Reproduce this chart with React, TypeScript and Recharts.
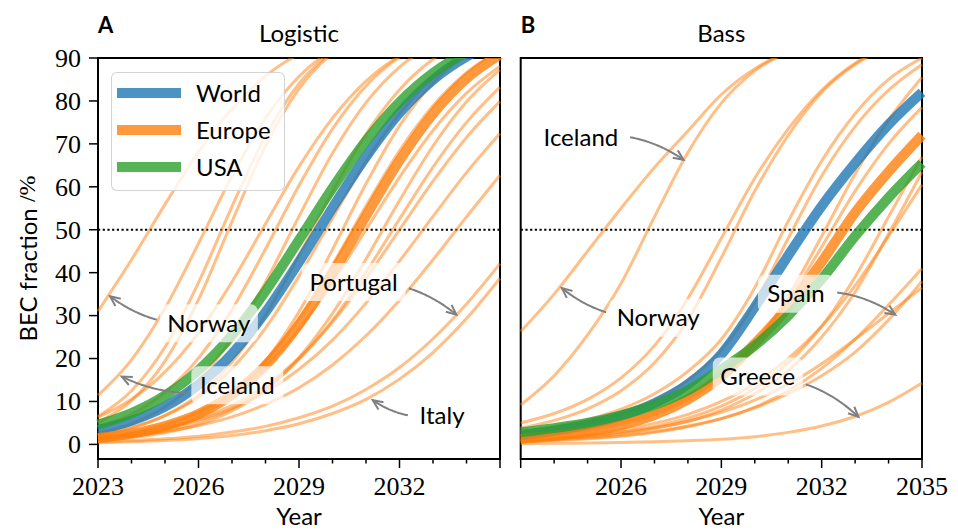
import React from 'react';
import { LineChart, Line, XAxis, YAxis, ReferenceLine, ReferenceArea, Label, Legend } from 'recharts';

// ---------- data ----------
const years = [2023, 2024, 2025, 2026, 2027, 2028, 2029, 2030, 2031, 2032, 2033, 2034, 2035];

// Logistic fits (BEC fraction, %)
const logisticWorld = [3.4, 5.5, 8.8, 13.9, 21.1, 30.8, 42.5, 55.1, 67.0, 77.2, 84.9, 90.3, 93.9];
const logisticEurope = [1.5, 2.5, 4.3, 7.1, 11.6, 18.4, 27.9, 39.9, 53.2, 66.1, 77.0, 85.2, 90.8];
const logisticUSA = [4.6, 7.3, 11.4, 17.3, 25.4, 35.7, 47.6, 59.7, 70.7, 79.7, 86.5, 91.3, 94.5];
const logisticCountries: number[][] = [
  [31.0, 43.0, 55.9, 68.1, 78.2, 85.8, 91.0, 94.5, 96.6, 98.0, 98.8, 99.3, 99.6], // Norway
  [11.4, 19.7, 31.7, 46.8, 62.5, 76.0, 85.7, 91.9, 95.6, 97.6, 98.7, 99.3, 99.6], // Iceland
  [6.5, 12.5, 22.7, 37.7, 55.4, 71.8, 84.0, 91.5, 95.7, 97.8, 98.9, 99.5, 99.7],
  [5.1, 10.2, 19.4, 33.7, 51.9, 69.5, 82.8, 91.1, 95.6, 97.9, 99.0, 99.5, 99.8],
  [6.3, 10.5, 16.9, 26.0, 37.9, 51.4, 64.7, 76.0, 84.6, 90.5, 94.3, 96.6, 98.0],
  [4.0, 7.0, 12.1, 20.1, 31.4, 45.5, 60.3, 73.5, 83.5, 90.2, 94.4, 96.8, 98.2],
  [2.7, 4.8, 8.7, 15.0, 24.7, 37.8, 53.1, 67.8, 79.6, 87.9, 93.1, 96.2, 97.9],
  [2.1, 3.8, 6.7, 11.5, 19.2, 30.1, 44.0, 58.9, 72.3, 82.6, 89.7, 94.0, 96.6],
  [2.3, 3.95, 6.7, 11.0, 17.7, 27.1, 39.2, 52.7, 65.9, 77.0, 85.3, 91.0, 94.6],
  [1.1, 2.0, 3.6, 6.5, 11.4, 19.4, 30.9, 45.4, 60.7, 74.2, 84.2, 90.8, 94.9],
  [1.5, 2.6, 4.4, 7.4, 12.1, 19.3, 29.3, 41.8, 55.5, 68.4, 78.9, 86.6, 91.8],
  [1.8, 2.9, 4.7, 7.6, 11.9, 18.2, 26.9, 37.8, 50.0, 62.2, 73.1, 81.8, 88.1],
  [0.9, 1.6, 2.7, 4.6, 7.8, 12.7, 20.2, 30.5, 43.2, 56.8, 69.5, 79.8, 87.3],
  [1.2, 2.0, 3.2, 5.2, 8.3, 13.0, 19.8, 28.9, 40.1, 52.5, 64.6, 75.0, 83.2],
  [1.6, 2.5, 3.8, 6.0, 9.1, 13.7, 20.1, 28.5, 38.7, 50.0, 61.3, 71.5, 79.9],
  [1.7, 2.5, 3.8, 5.7, 8.4, 12.2, 17.5, 24.3, 32.9, 42.7, 53.1, 63.3, 72.4],
  [1.4, 2.0, 3.0, 4.4, 6.4, 9.3, 13.2, 18.5, 25.3, 33.6, 43.0, 53.0, 62.7],
  [0.6, 0.9, 1.3, 1.9, 2.9, 4.2, 6.2, 8.9, 12.8, 17.9, 24.6, 32.7, 42.1], // Portugal
  [0.4, 0.6, 0.9, 1.4, 2.1, 3.2, 4.8, 7.2, 10.5, 15.2, 21.4, 29.3, 38.7], // Italy
];

// Bass fits (BEC fraction, %)
const bassWorld = [2.2, 3.2, 4.6, 6.6, 9.6, 14.0, 21.0, 32.0, 44.0, 55.5, 65.5, 74.5, 82.0];
const bassEurope = [1.3, 2.0, 3.0, 4.5, 6.8, 10.5, 15.8, 23.5, 32.0, 42.5, 54.0, 63.5, 72.0];
const bassUSA = [2.8, 3.8, 5.0, 6.8, 9.2, 12.6, 17.5, 23.0, 30.0, 38.5, 48.5, 57.5, 65.5];
const bassCountries: number[][] = [
  [26.3, 35.0, 45.0, 55.0, 64.5, 73.0, 81.5, 87.5, 91.5, 94.0, 96.0, 97.0, 98.0], // Norway
  [9.2, 16.0, 25.5, 37.5, 53.0, 68.0, 79.5, 87.0, 91.5, 94.5, 96.5, 97.5, 98.3], // Iceland
  [5.0, 7.2, 10.5, 15.5, 23.0, 34.0, 48.0, 62.0, 73.5, 82.5, 88.8, 92.8, 95.3],
  [3.8, 5.6, 8.3, 12.5, 19.0, 29.0, 43.5, 59.0, 72.0, 82.0, 88.5, 92.5, 95.0],
  [3.0, 4.2, 5.8, 8.2, 11.8, 17.0, 24.5, 36.5, 52.0, 66.0, 77.0, 85.0, 90.0],
  [2.5, 3.5, 5.0, 7.0, 10.2, 15.0, 22.0, 33.0, 48.0, 62.5, 74.0, 82.5, 88.5],
  [1.5, 2.2, 3.2, 4.7, 7.0, 10.5, 15.8, 23.5, 34.5, 48.5, 63.0, 75.5, 85.5],
  [1.8, 2.6, 3.7, 5.3, 7.7, 11.2, 16.2, 23.5, 33.5, 46.0, 59.0, 70.0, 78.5],
  [1.0, 1.4, 2.0, 2.9, 4.2, 6.1, 8.9, 13.0, 19.0, 27.5, 39.0, 53.0, 67.0],
  [0.8, 1.2, 1.7, 2.5, 3.7, 5.4, 8.0, 11.8, 17.2, 25.0, 35.5, 49.0, 63.5],
  [1.2, 1.7, 2.4, 3.4, 4.9, 7.0, 10.0, 14.2, 20.0, 27.5, 37.0, 48.5, 60.5],
  [0.6, 0.9, 1.3, 1.9, 2.8, 4.1, 6.0, 8.7, 12.5, 17.7, 24.5, 32.5, 41.0],
  [0.8, 1.1, 1.5, 2.1, 3.0, 4.3, 6.0, 8.5, 11.8, 16.0, 21.5, 29.0, 38.0], // Spain
  [1.0, 1.4, 2.0, 2.8, 3.9, 5.4, 7.5, 10.3, 14.0, 18.8, 24.5, 30.5, 36.5],
  [0.2, 0.25, 0.3, 0.45, 0.6, 0.85, 1.2, 1.8, 2.8, 4.3, 6.5, 9.8, 14.3], // Greece
];

const yTicks = [0, 10, 20, 30, 40, 50, 60, 70, 80, 90];
const logisticXLabels = [2023, 2026, 2029, 2032];
const bassXLabels = [2026, 2029, 2032, 2035];

// annotation placement: text centre and arrow tip, in (year, %) units
type Note = { text: string; at: [number, number]; tip: [number, number]; boxWidth: number; box: boolean };
const logisticNotes: Note[] = [
  { text: 'Norway', at: [2026.31, 28.2], tip: [2023.36, 34.5], boxWidth: 98, box: true },
  { text: 'Iceland', at: [2027.16, 13.8], tip: [2023.71, 15.8], boxWidth: 92, box: true },
  { text: 'Portugal', at: [2030.63, 37.8], tip: [2033.7, 30.2], boxWidth: 104, box: true },
  { text: 'Italy', at: [2033.27, 6.7], tip: [2031.2, 10.3], boxWidth: 62, box: true },
];
const bassNotes: Note[] = [
  { text: 'Iceland', at: [2024.8, 71.6], tip: [2027.87, 66.3], boxWidth: 92, box: true },
  { text: 'Norway', at: [2027.11, 29.5], tip: [2024.23, 36.4], boxWidth: 98, box: true },
  { text: 'Spain', at: [2031.23, 35.1], tip: [2034.2, 30.2], boxWidth: 76, box: true },
  { text: 'Greece', at: [2030.09, 15.8], tip: [2033.1, 6.4], boxWidth: 90, box: true },
];

// ---------- styling ----------
const SANS = 'Lato, "Open Sans", sans-serif';
const SERIF = '"Liberation Serif", "DejaVu Serif", serif';
const BLUE = '#1f77b4';
const ORANGE = '#ff7f0e';
const GREEN = '#2ca02c';
const Y_DOMAIN: [number, number] = [-3.4, 90];

const sansStyle: React.CSSProperties = { fontFamily: SANS };
const serifStyle: React.CSSProperties = { fontFamily: SERIF };

function buildRows(world: number[], europe: number[], usa: number[], countries: number[][]) {
  return years.map((year, i) => {
    const row: Record<string, number> = { year, World: world[i], Europe: europe[i], USA: usa[i] };
    countries.forEach((vals, j) => {
      row[`country${j}`] = vals[i];
    });
    return row;
  });
}

const logisticRows = buildRows(logisticWorld, logisticEurope, logisticUSA, logisticCountries);
const bassRows = buildRows(bassWorld, bassEurope, bassUSA, bassCountries);

function makeXTick(labelled: number[]) {
  return (props: any) => {
    const { x, y, payload } = props;
    const v = payload.value as number;
    const major = (v - 2023) % 3 === 0;
    return (
      <g>
        <line x1={x} x2={x} y1={y} y2={y + (major ? 9 : 4.5)} stroke="#000" strokeWidth={1.5} />
        {labelled.includes(v) && (
          <text x={x} y={y + 36} textAnchor="middle" style={serifStyle} fontSize={26} fill="#000">
            {v}
          </text>
        )}
      </g>
    );
  };
}

const YTick = (props: any) => {
  const { x, y, payload } = props;
  return (
    <g>
      <line x1={x - 9} x2={x} y1={y} y2={y} stroke="#000" strokeWidth={1.5} />
      <text x={x - 17} y={y} dy="0.34em" textAnchor="end" style={serifStyle} fontSize={26} fill="#000">
        {payload.value}
      </text>
    </g>
  );
};

function makeNote(note: Note) {
  return (p: any) => {
    const cx = Number(p.x1);
    const cy = Number(p.y1);
    const tx = Number(p.x2);
    const ty = Number(p.y2);
    if (![cx, cy, tx, ty].every(Number.isFinite)) return <g />;
    const w = note.boxWidth;
    const h = 38;
    const dx = tx - cx;
    const dy = ty - cy;
    const rad = 0.2;
    const mx = (cx + tx) / 2 + rad * dy;
    const my = (cy + ty) / 2 - rad * dx;
    const pt = (t: number): [number, number] => [
      (1 - t) * (1 - t) * cx + 2 * (1 - t) * t * mx + t * t * tx,
      (1 - t) * (1 - t) * cy + 2 * (1 - t) * t * my + t * t * ty,
    ];
    let t0 = 0;
    for (let i = 0; i <= 400; i++) {
      const t = i / 400;
      const [px, py] = pt(t);
      if (Math.abs(px - cx) > w / 2 + 3 || Math.abs(py - cy) > h / 2 + 3) {
        t0 = t;
        break;
      }
    }
    const pts: string[] = [];
    for (let i = 0; i <= 40; i++) {
      const [px, py] = pt(t0 + ((1 - t0) * i) / 40);
      pts.push(`${i ? 'L' : 'M'}${px.toFixed(2)},${py.toFixed(2)}`);
    }
    const ang = Math.atan2(ty - my, tx - mx);
    const L = 11;
    const s = 0.42;
    const h1 = `${(tx - L * Math.cos(ang - s)).toFixed(2)},${(ty - L * Math.sin(ang - s)).toFixed(2)}`;
    const h2 = `${(tx - L * Math.cos(ang + s)).toFixed(2)},${(ty - L * Math.sin(ang + s)).toFixed(2)}`;
    return (
      <g>
        {note.box && (
          <rect x={cx - w / 2} y={cy - h / 2} width={w} height={h} rx={7} fill="#fff" fillOpacity={0.7} />
        )}
        <text x={cx} y={cy} dy="0.36em" textAnchor="middle" style={sansStyle} fontSize={24} fill="#000">
          {note.text}
        </text>
        <path d={pts.join(' ')} fill="none" stroke="#808080" strokeWidth={2} />
        <path d={`M${h1} L${tx},${ty} L${h2}`} fill="none" stroke="#808080" strokeWidth={2} />
      </g>
    );
  };
}

const legendItems = [
  { name: 'World', color: BLUE },
  { name: 'Europe', color: ORANGE },
  { name: 'USA', color: GREEN },
];

const LegendBox = () => (
  <div
    style={{
      position: 'relative',
      width: 174,
      height: 119,
      boxSizing: 'border-box',
      border: '1.5px solid rgba(200,200,200,0.8)',
      borderRadius: 6,
      background: 'rgba(255,255,255,0.8)',
      fontFamily: SANS,
      fontSize: 24,
      color: '#000',
    }}
  >
    {legendItems.map((item, i) => (
      <div key={item.name} style={{ position: 'absolute', left: 0, top: 20 + i * 37 - 18, height: 36, width: 174 }}>
        <div
          style={{
            position: 'absolute',
            left: 5,
            top: 13,
            width: 64,
            height: 10,
            background: item.color,
            opacity: 0.8,
          }}
        />
        <div style={{ position: 'absolute', left: 84, top: 0, lineHeight: '36px' }}>{item.name}</div>
      </div>
    ))}
  </div>
);

type PanelProps = {
  letter: string;
  title: string;
  rows: Record<string, number>[];
  countryCount: number;
  xLabels: number[];
  showYAxis: boolean;
  notes: Note[];
  withLegend: boolean;
  width: number;
  marginLeft: number;
  marginRight: number;
};

function Panel(props: PanelProps) {
  const { letter, title, rows, countryCount, xLabels, showYAxis, notes, withLegend, width, marginLeft, marginRight } = props;
  const countryKeys = Array.from({ length: countryCount }, (_, j) => `country${j}`);
  return (
    <LineChart
      width={width}
      height={531}
      data={rows}
      margin={{ top: 58, right: marginRight, bottom: 0, left: marginLeft }}
    >
      <XAxis
        dataKey="year"
        type="number"
        domain={[2023, 2035]}
        ticks={years}
        interval={0}
        height={72}
        axisLine={false}
        tickLine={false}
        tickSize={0}
        tickMargin={0}
        tick={makeXTick(xLabels)}
      >
        <Label
          content={(lp: any) => {
            const vb = lp.viewBox || {};
            return (
              <text x={vb.x + vb.width / 2} y={525} textAnchor="middle" style={sansStyle} fontSize={24} fill="#000">
                Year
              </text>
            );
          }}
        />
      </XAxis>
      <YAxis
        type="number"
        domain={Y_DOMAIN}
        ticks={yTicks}
        allowDataOverflow
        hide={!showYAxis}
        width={98}
        axisLine={false}
        tickLine={false}
        tickSize={0}
        tickMargin={0}
        tick={YTick}
        interval={0}
      >
        {showYAxis && (
          <Label
            content={(lp: any) => {
              const vb = lp.viewBox || {};
              const cy = vb.y + vb.height / 2;
              return (
                <text
                  x={27}
                  y={cy}
                  transform={`rotate(-90 27 ${cy})`}
                  textAnchor="middle"
                  dominantBaseline="central"
                  style={sansStyle}
                  fontSize={24}
                  fill="#000"
                >
                  BEC fraction <tspan style={serifStyle}>/%</tspan>
                </text>
              );
            }}
          />
        )}
      </YAxis>
      <ReferenceLine y={50} stroke="#000" strokeWidth={2.2} strokeDasharray="2.2 2.5" />
      {countryKeys.map((key) => (
        <Line
          key={key}
          dataKey={key}
          type="monotone"
          stroke={ORANGE}
          strokeOpacity={0.5}
          strokeWidth={3}
          dot={false}
          activeDot={false}
          isAnimationActive={false}
        />
      ))}
      <Line dataKey="World" type="monotone" stroke={BLUE} strokeOpacity={0.8} strokeWidth={10} dot={false} activeDot={false} isAnimationActive={false} />
      <Line dataKey="Europe" type="monotone" stroke={ORANGE} strokeOpacity={0.8} strokeWidth={10} dot={false} activeDot={false} isAnimationActive={false} />
      <Line dataKey="USA" type="monotone" stroke={GREEN} strokeOpacity={0.8} strokeWidth={10} dot={false} activeDot={false} isAnimationActive={false} />
      <ReferenceArea
        x1={2023}
        x2={2035}
        y1={Y_DOMAIN[0]}
        y2={Y_DOMAIN[1]}
        fill="none"
        fillOpacity={0}
        stroke="#000"
        strokeWidth={2}
        strokeOpacity={1}
        ifOverflow="visible"
      >
        <Label
          content={(lp: any) => {
            const vb = lp.viewBox || {};
            return (
              <g>
                <text x={vb.x} y={33} style={sansStyle} fontWeight={700} fontSize={22} fill="#000">
                  {letter}
                </text>
                <text x={vb.x + vb.width / 2} y={42} textAnchor="middle" style={sansStyle} fontSize={24} fill="#000">
                  {title}
                </text>
              </g>
            );
          }}
        />
      </ReferenceArea>
      {notes.map((n) => (
        <ReferenceLine
          key={n.text}
          segment={[
            { x: n.at[0], y: n.at[1] },
            { x: n.tip[0], y: n.tip[1] },
          ]}
          ifOverflow="visible"
          shape={makeNote(n)}
        />
      ))}
      {withLegend && (
        <Legend
          layout="vertical"
          align="center"
          verticalAlign="middle"
          wrapperStyle={{ position: 'absolute', left: 111, top: 72, width: 174, height: 119 }}
          content={() => <LegendBox />}
        />
      )}
    </LineChart>
  );
}

export default function App() {
  return (
    <div style={{ position: 'absolute', left: 0, top: 0, width: 958, height: 531, background: '#fff', overflow: 'hidden' }}>
      <div style={{ position: 'absolute', left: 0, top: 0 }}>
        <Panel
          letter="A"
          title="Logistic"
          rows={logisticRows}
          countryCount={logisticCountries.length}
          xLabels={logisticXLabels}
          showYAxis
          notes={logisticNotes}
          withLegend
          width={520}
          marginLeft={0}
          marginRight={20}
        />
      </div>
      <div style={{ position: 'absolute', left: 500, top: 0 }}>
        <Panel
          letter="B"
          title="Bass"
          rows={bassRows}
          countryCount={bassCountries.length}
          xLabels={bassXLabels}
          showYAxis={false}
          notes={bassNotes}
          withLegend={false}
          width={458}
          marginLeft={20.7}
          marginRight={36}
        />
      </div>
    </div>
  );
}
